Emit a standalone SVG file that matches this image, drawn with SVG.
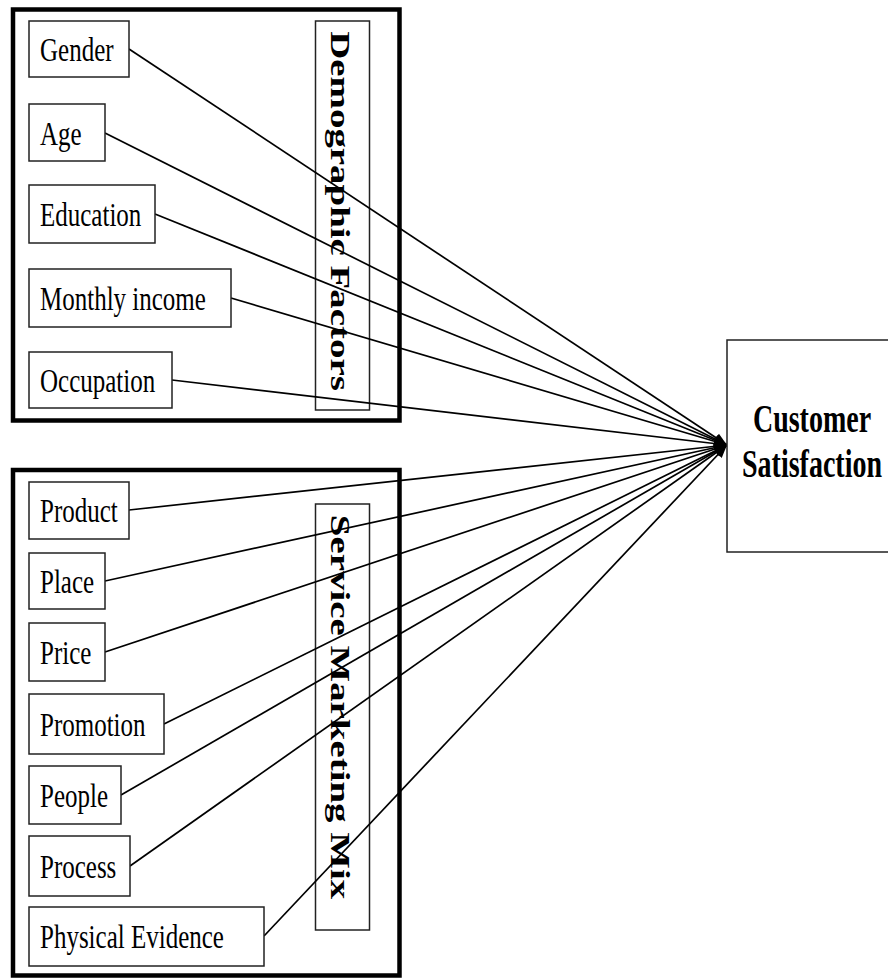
<svg xmlns="http://www.w3.org/2000/svg" width="888" height="978" viewBox="0 0 888 978">
<style>
.outer{fill:none;stroke:#000;stroke-width:4.5}
.box{fill:#fff;stroke:#222;stroke-width:1.5}
.lbl{font-family:"Liberation Serif","Times New Roman",serif;font-size:25px;fill:#000}
.vt{font-family:"Liberation Serif","Times New Roman",serif;font-size:27px;font-weight:bold;fill:#000;text-anchor:middle}
.cs{font-family:"Liberation Serif","Times New Roman",serif;font-size:28px;font-weight:bold;fill:#000;text-anchor:middle}
.ln{stroke:#000;stroke-width:1.7;fill:none;marker-end:url(#ah)}
</style>
<defs>
<marker id="ah" markerUnits="userSpaceOnUse" markerWidth="14" markerHeight="12" refX="13" refY="6" orient="auto">
<path d="M0,1 L13,6 L0,11 Z" fill="#000"/>
</marker>
</defs>
<rect width="888" height="978" fill="#fff"/>

<g id="demographic-group">
<rect class="outer" x="13" y="9.5" width="386.5" height="411"/>
<rect class="box" x="315.5" y="21" width="54" height="389"/>
<text class="vt" transform="translate(331,211) scale(1,1.44) rotate(90)">Demographic Factors</text>
</g>
<g id="marketing-group">
<rect class="outer" x="13" y="470" width="386.5" height="505.5"/>
<rect class="box" x="315.5" y="504" width="54" height="426"/>
<text class="vt" transform="translate(331,707) scale(1,1.44) rotate(90)">Service Marketing Mix</text>
</g>

<g id="connectors">
<line class="ln" x1="129" y1="49" x2="727" y2="445"/>
<line class="ln" x1="105" y1="133" x2="727" y2="445"/>
<line class="ln" x1="155" y1="214" x2="727" y2="445"/>
<line class="ln" x1="231" y1="298" x2="727" y2="445"/>
<line class="ln" x1="172" y1="380" x2="727" y2="445"/>
<line class="ln" x1="129" y1="510" x2="727" y2="445"/>
<line class="ln" x1="105" y1="581" x2="727" y2="445"/>
<line class="ln" x1="105" y1="652" x2="727" y2="445"/>
<line class="ln" x1="164" y1="724" x2="727" y2="445"/>
<line class="ln" x1="121" y1="795" x2="727" y2="445"/>
<line class="ln" x1="130" y1="866" x2="727" y2="445"/>
<line class="ln" x1="264" y1="936" x2="727" y2="445"/>
</g>

<g id="gender"><rect class="box" x="29" y="21" width="100" height="56"/><text class="lbl" transform="translate(40,61) scale(1,1.35)">Gender</text></g>
<g id="age"><rect class="box" x="29" y="104" width="76" height="57"/><text class="lbl" transform="translate(40,145) scale(1,1.35)">Age</text></g>
<g id="education"><rect class="box" x="29" y="185" width="126" height="58"/><text class="lbl" transform="translate(40,226) scale(1,1.35)">Education</text></g>
<g id="monthly-income"><rect class="box" x="29" y="269" width="202" height="58"/><text class="lbl" transform="translate(40,310) scale(1,1.35)">Monthly income</text></g>
<g id="occupation"><rect class="box" x="29" y="352" width="143" height="56"/><text class="lbl" transform="translate(40,392) scale(1,1.35)">Occupation</text></g>

<g id="product"><rect class="box" x="29" y="482" width="100" height="57"/><text class="lbl" transform="translate(40,522) scale(1,1.35)">Product</text></g>
<g id="place"><rect class="box" x="29" y="553" width="76" height="56"/><text class="lbl" transform="translate(40,593) scale(1,1.35)">Place</text></g>
<g id="price"><rect class="box" x="29" y="623" width="76" height="58"/><text class="lbl" transform="translate(40,664) scale(1,1.35)">Price</text></g>
<g id="promotion"><rect class="box" x="29" y="694" width="135" height="60"/><text class="lbl" transform="translate(40,736) scale(1,1.35)">Promotion</text></g>
<g id="people"><rect class="box" x="29" y="766" width="92" height="58"/><text class="lbl" transform="translate(40,807) scale(1,1.35)">People</text></g>
<g id="process"><rect class="box" x="29" y="836" width="101" height="60"/><text class="lbl" transform="translate(40,878) scale(1,1.35)">Process</text></g>
<g id="physical-evidence"><rect class="box" x="29" y="907" width="235" height="59"/><text class="lbl" transform="translate(40,948) scale(1,1.35)">Physical Evidence</text></g>

<g id="customer-satisfaction">
<rect class="box" x="727" y="340" width="172" height="212"/>
<text class="cs" transform="translate(812,432) scale(1,1.42)">Customer</text>
<text class="cs" transform="translate(812,477) scale(1,1.42)">Satisfaction</text>
</g>
</svg>
